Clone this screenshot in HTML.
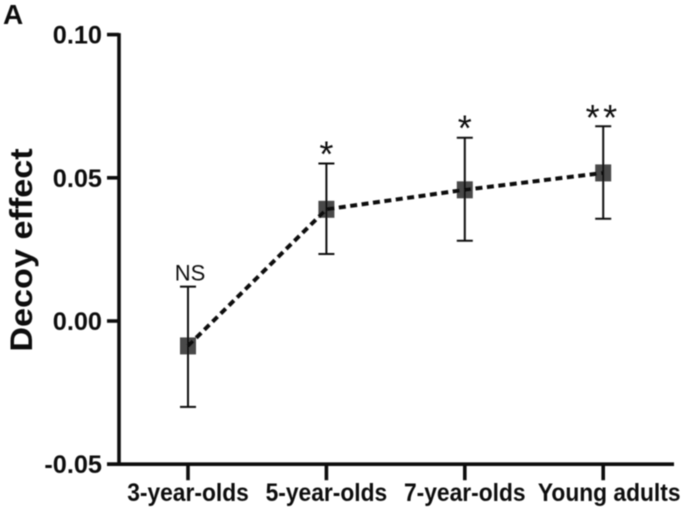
<!DOCTYPE html>
<html lang="en">
<head>
<meta charset="utf-8">
<title>Decoy effect by age group</title>
<style>
html,body{margin:0;padding:0;background:#fff;width:685px;height:510px;overflow:hidden}
svg{display:block}
text{font-family:"Liberation Sans",sans-serif;fill:#111}
.soft{filter:url(#blur)}
</style>
</head>
<body>
<svg id="chart" width="685" height="510" viewBox="0 0 685 510" xmlns="http://www.w3.org/2000/svg">
<defs><filter id="blur" x="-5%" y="-5%" width="110%" height="110%"><feGaussianBlur stdDeviation="0.5"/></filter></defs>
<g id="root" class="soft">
<text x="3" y="24" font-size="28" font-weight="bold">A</text>
<text transform="translate(32,250) rotate(-90) scale(1,0.92)" text-anchor="middle" font-size="34.2" font-weight="bold">Decoy effect</text>
</g>
</svg>
<script>
const categories = ['3-year-olds', '5-year-olds', '7-year-olds', 'Young adults'];
const means = [-0.0087, 0.039, 0.0458, 0.0517];
const errorUpper = [0.012, 0.055, 0.064, 0.068];
const errorLower = [-0.030, 0.0234, 0.028, 0.0357];
const significance = ['NS', '*', '*', '**'];
const yTicks = [0.10, 0.05, 0.00, -0.05];
const yTickLabels = ['0.10', '0.05', '0.00', '-0.05'];

const NS = 'http://www.w3.org/2000/svg';
const root = document.getElementById('root');
const yScale = v => 321 - (v / 0.05) * 143.2;
const xScale = i => 188 + i * 138.4;
const AXIS_X = 119;
const AXIS_Y = yScale(-0.05);

function make(tag, attrs, parent) {
  const el = document.createElementNS(NS, tag);
  for (const k in attrs) el.setAttribute(k, attrs[k]);
  parent.appendChild(el);
  return el;
}

const yAxis = make('line', {x1: AXIS_X, x2: AXIS_X, y1: yScale(0.10) - 1.5, y2: AXIS_Y + 1.5, stroke: '#111', 'stroke-width': 3.6}, root);



const xAxis = make('line', {x1: 107, x2: 674, y1: AXIS_Y, y2: AXIS_Y, stroke: '#111', 'stroke-width': 3.6}, root);



yTicks.forEach((t, i) => {
  const y = yScale(t);
  const tick = make('line', {x1: 107, x2: AXIS_X, y1: y, y2: y, stroke: '#111', 'stroke-width': 3.6}, root);
  
  
  const label = make('text', {x: 102, y: y + 9, 'text-anchor': 'end', 'font-size': 25.3, 'font-weight': 'bold'}, root);
  
  
  label.textContent = yTickLabels[i];
});

categories.forEach((c, i) => {
  const x = xScale(i);
  const tick = make('line', {x1: x, x2: x, y1: AXIS_Y, y2: AXIS_Y + 16, stroke: '#111', 'stroke-width': 3.6}, root);
  
  
  const label = make('text', {transform: 'translate(' + (i === 3 ? x + 6 : x) + ',501) scale(1,1.08)', 'text-anchor': 'middle', 'font-size': 22.8, 'font-weight': 'bold'}, root);
  
  
  label.textContent = c;
});

means.forEach((m, i) => {
  const x = xScale(i);
  const yt = yScale(errorUpper[i]);
  const yb = yScale(errorLower[i]);
  const y = yScale(m);

  const marker = make('rect', {x: x - 8, y: y - 8.5, width: 16, height: 17, fill: '#4a4a4a'}, root);
  
  

  const stem = make('line', {x1: x, x2: x, y1: yt, y2: yb, stroke: '#111', 'stroke-width': 2}, root);
  
  

  const capTop = make('line', {x1: x - 8, x2: x + 8, y1: yt, y2: yt, stroke: '#111', 'stroke-width': 2}, root);
  
  

  const capBottom = make('line', {x1: x - 8, x2: x + 8, y1: yb, y2: yb, stroke: '#111', 'stroke-width': 2}, root);
  
  

  const isNS = significance[i] === 'NS';
  const isDouble = significance[i] === '**';
  const sig = make('text', {x: isNS ? x + 2 : x, y: isNS ? yt - 6 : (isDouble ? yt + 4 : yt + 3), 'text-anchor': 'middle', 'font-size': isNS ? 22 : 36, 'letter-spacing': isDouble ? 3.5 : 0}, root);
  
  
  sig.textContent = significance[i];
});

const points = means.map((m, i) => xScale(i) + ',' + yScale(m)).join(' ');
const line = make('polyline', {points: points, fill: 'none', stroke: '#111', 'stroke-width': 4, 'stroke-dasharray': '7 4.5'}, root);


</script>
</body>
</html>
